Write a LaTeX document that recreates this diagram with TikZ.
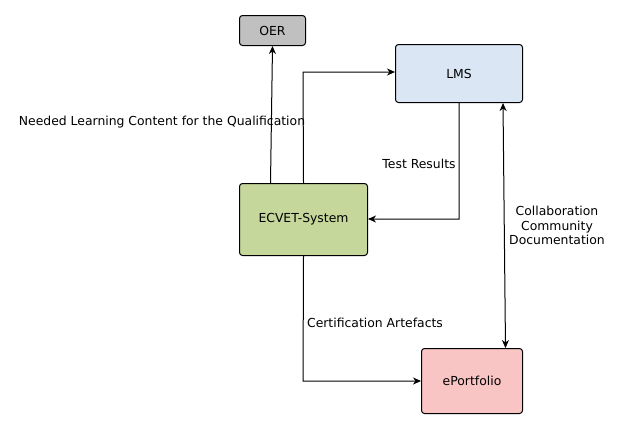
\documentclass[tikz,border=0pt]{standalone}
\usepackage{fontspec}
\setmainfont{DejaVu Sans}
\usetikzlibrary{arrows.meta}
\definecolor{oerfill}{RGB}{192,192,192}
\definecolor{lmsfill}{RGB}{218,230,243}
\definecolor{ecvfill}{RGB}{197,215,155}
\definecolor{epfill}{RGB}{248,196,196}
\begin{document}
\begin{tikzpicture}[x=1bp,y=-1bp,
  every node/.style={font=\fontsize{12.4bp}{14.4bp}\selectfont},
  box/.style={draw=black, line width=1bp, rounded corners=3bp, inner sep=0pt, anchor=north west},
  conn/.style={draw=black, line width=1bp, -{Stealth[length=8bp,width=7bp,inset=2.5bp]}},
  lbl/.style={inner sep=0pt, align=center}]
\useasboundingbox (0,0) rectangle (619,429);
\fill[white] (0,0) rectangle (619,429);
\node[box, fill=oerfill, minimum width=66bp, minimum height=30bp] (oer) at (239,15) {OER};
\node[box, fill=lmsfill, minimum width=127bp, minimum height=58bp] (lms) at (395,44) {LMS};
\node[box, fill=ecvfill, minimum width=128bp, minimum height=72bp] (ecv) at (239,183) {ECVET-System};
\node[box, fill=epfill, minimum width=101bp, minimum height=65bp] (ep) at (421,348) {ePortfolio};
\coordinate (c1) at (303,72);
\coordinate (c2) at (459,219);
\coordinate (c3) at (303,381);
\draw[conn] ([xshift=-33bp]ecv.north) -- (oer.south);
\draw[conn] (ecv.north) -- (c1) -- (lms.west |- c1);
\draw[conn] (lms.south) -- (c2) -- (ecv.east |- c2);
\draw[conn] (ecv.south) -- (c3) -- (ep.west |- c3);
\draw[conn, {Stealth[length=8bp,width=7bp,inset=2.5bp]}-{Stealth[length=8bp,width=7bp,inset=2.5bp]}] ([xshift=44bp]lms.south) -- ([xshift=33.5bp]ep.north);
\node[lbl] (l1) at (162,122.5) {Needed Learning Content for the Qualification};
\node[lbl] (l2) at (419,163.5) {Test Results};
\node[lbl] (l3) at (557,225.5) {Collaboration\\Community\\Documentation};
\node[lbl] (l4) at (375,323) {Certification Artefacts};
\end{tikzpicture}
\end{document}
